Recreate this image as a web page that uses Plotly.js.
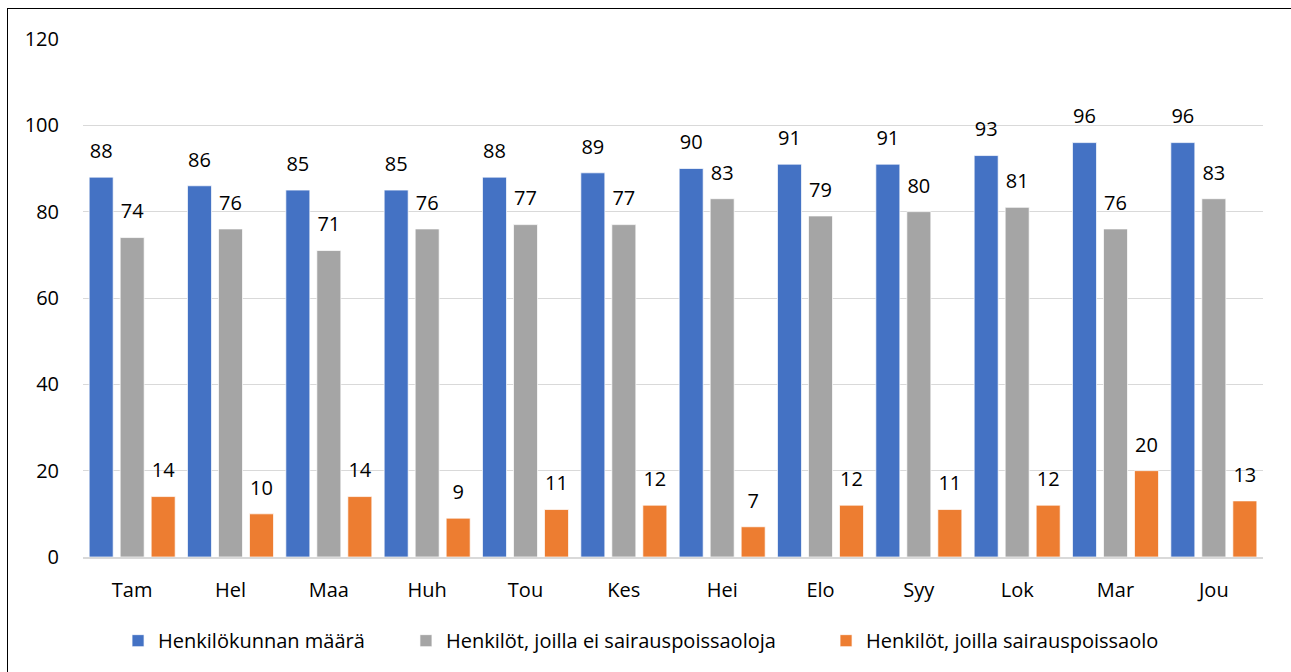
<!DOCTYPE html>
<html>
<head>
<meta charset="utf-8">
<script src="https://cdn.plot.ly/plotly-3.0.1.min.js"></script>
<style>
  html, body { margin: 0; padding: 0; background: #fff; overflow: hidden; width: 1291px; height: 672px; }
  #chart { width: 1291px; height: 672px; }
  #frame { position: absolute; left: 7px; top: 8px; width: 1400px; height: 800px;
           border-left: 1.5px solid #000; border-top: 1.5px solid #000; pointer-events: none; }
</style>
</head>
<body>
<div id="chart"></div>
<div id="frame"></div>
<script>
const categories = ["Tam", "Hel", "Maa", "Huh", "Tou", "Kes", "Hei", "Elo", "Syy", "Lok", "Mar", "Jou"];
const henkilokunta = [88, 86, 85, 85, 88, 89, 90, 91, 91, 93, 96, 96];
const eiPoissaoloja = [74, 76, 71, 76, 77, 77, 83, 79, 80, 81, 76, 83];
const poissaolo = [14, 10, 14, 9, 11, 12, 7, 12, 11, 12, 20, 13];
const seriesNames = ["Henkilökunnan määrä", "Henkilöt, joilla ei sairauspoissaoloja", "Henkilöt, joilla sairauspoissaolo"];
const seriesColors = ["#4472C4", "#A5A5A5", "#ED7D31"];
const yTicks = [0, 20, 40, 60, 80, 100, 120];

const FONT = "'Open Sans', 'Noto Sans', sans-serif";
const seriesValues = [henkilokunta, eiPoissaoloja, poissaolo];
const legendIds = ["legend", "legend2", "legend3"];
const legendX = [0.0297, 0.2737, 0.6297];

const traces = [];
seriesValues.forEach((vals, i) => {
  traces.push({
    type: "bar",
    name: seriesNames[i],
    legend: legendIds[i],
    x: categories,
    y: vals,
    marker: { color: seriesColors[i], line: { color: "rgba(255,255,255,0.7)", width: 1 } },
    hoverinfo: "skip"
  });
});
seriesValues.forEach((vals, i) => {
  traces.push({
    type: "scatter",
    mode: "markers+text",
    orientation: "v",
    x: categories,
    y: vals,
    text: vals.map(String),
    textposition: "top center",
    textfont: { family: FONT, size: 20, color: "#000" },
    marker: { size: 21, opacity: 0, color: seriesColors[i] },
    showlegend: false,
    hoverinfo: "skip",
    cliponaxis: false
  });
});

const layout = {
  width: 1291,
  height: 672,
  margin: { l: 83, r: 28, t: 39, b: 115 },
  paper_bgcolor: "#fff",
  plot_bgcolor: "#fff",
  barmode: "group",
  bargap: 0.054,
  bargroupgap: 0.226,
  scattermode: "group",
  scattergap: 0.054,
  font: { family: FONT, size: 20, color: "#000" },
  xaxis: {
    type: "category",
    showgrid: false,
    showline: true,
    linecolor: "#D9D9D9",
    linewidth: 2,
    ticks: "outside",
    ticklen: 14,
    tickcolor: "rgba(0,0,0,0)",
    tickfont: { family: FONT, size: 20, color: "#000" },
    fixedrange: true
  },
  yaxis: {
    range: [0, 120],
    tickvals: yTicks,
    ticktext: yTicks.map(String),
    showgrid: true,
    gridcolor: "#D9D9D9",
    gridwidth: 1,
    zeroline: false,
    showline: false,
    ticks: "outside",
    ticklen: 19,
    tickcolor: "rgba(0,0,0,0)",
    tickfont: { family: FONT, size: 20, color: "#000" },
    fixedrange: true
  },
  showlegend: true
};
legendIds.forEach((id, i) => {
  layout[id] = {
    orientation: "h",
    x: legendX[i],
    xanchor: "left",
    y: -0.1615,
    yanchor: "middle",
    bgcolor: "rgba(0,0,0,0)",
    font: { family: FONT, size: 20, color: "#000" },
    itemclick: false,
    itemdoubleclick: false
  };
});

Plotly.newPlot("chart", traces, layout, { displayModeBar: false, staticPlot: true });
</script>
</body>
</html>
